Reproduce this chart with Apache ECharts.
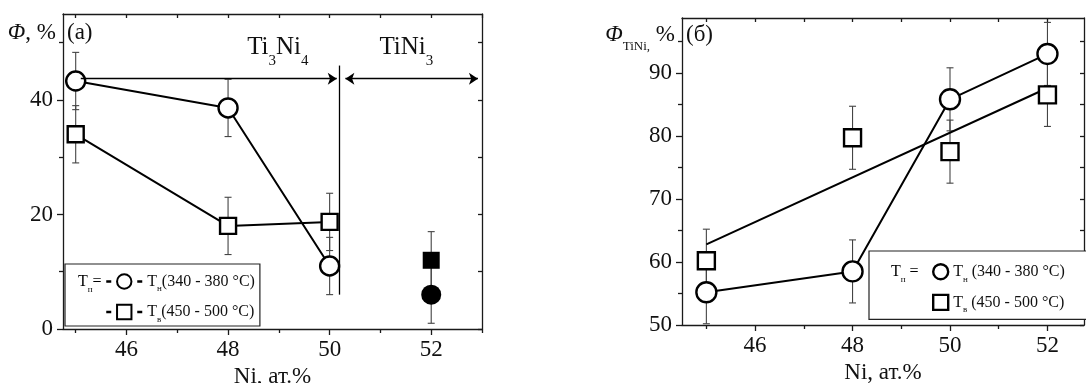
<!DOCTYPE html>
<html>
<head>
<meta charset="utf-8">
<title>Ф, %  vs Ni, ат.%</title>
<script src="https://cdn.jsdelivr.net/npm/echarts@6/dist/echarts.min.js"></script>
<style>
  html, body { margin: 0; padding: 0; background: #fff; }
  #chart { width: 1086px; height: 383px; }
</style>
</head>
<body>
<div id="chart"></div>
<script>
// panel (а): Ф, %
const niA = [45, 48, 50]
const phiTnA = [43.3, 38.6, 11.0]    // Tн (340 - 380 °C), open circles
const phiTvA = [34.0, 18.0, 18.7]    // Tв (450 - 500 °C), open squares
const errTnA = [5, 5, 5]
const errTvA = [5, 5, 5]
const ni52 = [52]
const phiTn52 = [6.0]                // filled circle
const phiTv52 = [12.0]               // filled square
const err52 = [5]

// panel (б): Ф TiNi, %
const niB = [45, 48, 50, 52]
const phiTnB = [55.2, 58.5, 85.8, 93.0]
const phiTvB = [60.2, 79.7, 77.5, 86.5]
const errTnB = [5, 5, 5, 5]
const errTvB = [5, 5, 5, 5]
const fitNiB = [45, 52]
const fitPhiB = [62.8, 87.6]

// ticks
const niTicks = [46, 48, 50, 52]
const niMinorA = [45, 47, 49, 51, 53]
const niMinorB = [45, 47, 49, 51]
const phiTicksA = [0, 20, 40]
const phiMinorA = [10, 30, 50]
const phiTicksB = [50, 60, 70, 80, 90]
const phiMinorB = [55, 65, 75, 85, 95]

// phase regions in (а)
const phaseNi = 50.18
const phaseSpan = [6, 46]
const arrowPhi = 43.7

const FONT = "'Liberation Serif', 'DejaVu Serif', serif"
const INK = '#1a1a1a'

const zip = (xs, ys) => xs.map((x, i) => [x, ys[i]])

function tickStyle() {
  return { color: INK, width: 1.3 }
}

function xAxes(grid, min, max, minor, nameGap) {
  return [{
    type: 'value', gridIndex: grid, min: min, max: max, position: 'bottom',
    axisLine: { show: true, onZero: false, lineStyle: tickStyle() },
    axisTick: { show: true, length: 6, customValues: niTicks, lineStyle: tickStyle() },
    axisLabel: { customValues: niTicks, margin: 9, fontSize: 23, fontFamily: FONT, color: '#111' },
    splitLine: { show: false },
    name: 'Ni, ат.%', nameLocation: 'middle', nameGap: nameGap,
    nameTextStyle: { fontSize: 23, fontFamily: FONT, color: '#111' }
  }, {
    type: 'value', gridIndex: grid, min: min, max: max, position: 'bottom',
    axisLine: { show: false, onZero: false },
    axisTick: { show: true, length: 4, customValues: minor, lineStyle: tickStyle() },
    axisLabel: { show: false }, splitLine: { show: false }
  }, {
    type: 'value', gridIndex: grid, min: min, max: max, position: 'top',
    axisLine: { show: true, onZero: false, lineStyle: tickStyle() },
    axisTick: { show: true, inside: true, length: 4, customValues: niTicks.concat(minor), lineStyle: tickStyle() },
    axisLabel: { show: false }, splitLine: { show: false }
  }]
}

function yAxes(grid, min, max, ticks, minor, name, nameGap, rich) {
  return [{
    type: 'value', gridIndex: grid, min: min, max: max, position: 'left',
    axisLine: { show: true, onZero: false, lineStyle: tickStyle() },
    axisTick: { show: true, length: 6, customValues: ticks, lineStyle: tickStyle() },
    axisLabel: { customValues: ticks, margin: 10, fontSize: 23, fontFamily: FONT, color: '#111' },
    splitLine: { show: false },
    name: name, nameLocation: 'end', nameGap: nameGap,
    nameTextStyle: { align: 'right', verticalAlign: 'middle', padding: [0, 7, 0, 0], rich: rich }
  }, {
    type: 'value', gridIndex: grid, min: min, max: max, position: 'left',
    axisLine: { show: false, onZero: false },
    axisTick: { show: true, length: 4, customValues: minor, lineStyle: tickStyle() },
    axisLabel: { show: false }, splitLine: { show: false }
  }, {
    type: 'value', gridIndex: grid, min: min, max: max, position: 'right',
    axisLine: { show: true, onZero: false, lineStyle: tickStyle() },
    axisTick: { show: true, inside: true, length: 4, customValues: ticks.concat(minor), lineStyle: tickStyle() },
    axisLabel: { show: false }, splitLine: { show: false }
  }]
}

function errorBars(xs, ys, errs, xi, yi) {
  return {
    type: 'custom', xAxisIndex: xi, yAxisIndex: yi, z: 1, silent: true,
    data: xs.map((x, i) => [x, ys[i] - errs[i], ys[i] + errs[i]]),
    encode: { x: 0, y: [1, 2] },
    renderItem: function (params, api) {
      const top = api.coord([api.value(0), api.value(2)])
      const bot = api.coord([api.value(0), api.value(1)])
      const w = 3.5
      const st = { stroke: '#444', lineWidth: 1.1 }
      return {
        type: 'group',
        children: [
          { type: 'line', shape: { x1: top[0], y1: top[1], x2: bot[0], y2: bot[1] }, style: st },
          { type: 'line', shape: { x1: top[0] - w, y1: top[1], x2: top[0] + w, y2: top[1] }, style: st },
          { type: 'line', shape: { x1: bot[0] - w, y1: bot[1], x2: bot[0] + w, y2: bot[1] }, style: st }
        ]
      }
    }
  }
}

const openMark = { color: '#fff', borderColor: '#000', borderWidth: 2.4, opacity: 1 }
const fullMark = { color: '#000', opacity: 1 }
const solidLine = { color: '#000', width: 2 }

// subscripts: a tiny token pushed down by top padding, so the line box keeps its height
const sub = (size, drop, lh) => ({ fontSize: size, fontFamily: FONT, color: '#111', height: 2, lineHeight: lh, padding: [drop, 0, 0, 0] })

const mainRich = {
  phi: { fontSize: 23, fontStyle: 'italic', fontFamily: FONT, color: '#111', lineHeight: 26 },
  m: { fontSize: 23, fontFamily: FONT, color: '#111', lineHeight: 26 },
  s: sub(13, 23, 26)
}
const labelRich = {
  m: { fontSize: 25, fontFamily: FONT, color: '#111', lineHeight: 30 },
  s: sub(15, 27, 30)
}
const legendRich = {
  m: { fontSize: 16, fontFamily: FONT, color: '#111', lineHeight: 18 },
  s: sub(9, 15, 18)
}
const legendName = name => '{m|T}{s|' + name[1] + '}{m|' + name.slice(2) + '}'

const chart = echarts.init(document.getElementById('chart'), null, { renderer: 'canvas' })

chart.setOption({
  animation: false,
  backgroundColor: '#fff',
  textStyle: { fontFamily: FONT },
  grid: [
    { left: 63, top: 14, width: 419, height: 315, containLabel: false, outerBoundsMode: 'none' },
    { left: 682, top: 18, width: 402, height: 307, containLabel: false, outerBoundsMode: 'none' }
  ],
  xAxis: xAxes(0, 44.75, 53, niMinorA, 29).concat(xAxes(1, 44.5, 52.75, niMinorB, 31)),
  yAxis: yAxes(0, 0, 55, phiTicksA, phiMinorA, '{phi|Φ}{m|, %}', -19, mainRich)
    .concat(yAxes(1, 50, 98.7, phiTicksB, phiMinorB, '{phi|Φ}{s|TiNi,}{m| %}', -17, mainRich)),
  legend: [{
    orient: 'vertical', left: 65, top: 264, selectedMode: false,
    data: ['Tн(340 - 380 °C)', 'Tв(450 - 500 °C)'],
    itemWidth: 36, itemHeight: 18, itemGap: 10,
    padding: [9, 5, 2, 40],
    lineStyle: { type: [5, 26], width: 2.5, color: '#000' },
    borderColor: '#222', borderWidth: 1.2, backgroundColor: '#fff',
    formatter: legendName,
    textStyle: { rich: legendRich }
  }, {
    orient: 'vertical', left: 869, top: 251, selectedMode: false,
    data: [
      { name: 'Tн (340 - 380 °C)', icon: 'circle', itemStyle: openMark },
      { name: 'Tв (450 - 500 °C)', icon: 'rect', itemStyle: openMark }
    ],
    itemWidth: 15, itemHeight: 15, itemGap: 10,
    padding: [12, 40, 5, 63],
    borderColor: '#222', borderWidth: 1.2, backgroundColor: '#fff',
    formatter: legendName,
    textStyle: { rich: legendRich }
  }],
  graphic: [
    { type: 'text', x: 67, y: 33, style: { text: '(a)', font: '23px ' + FONT, fill: '#111', verticalAlign: 'middle' } },
    { type: 'text', x: 686, y: 35, style: { text: '(б)', font: '23px ' + FONT, fill: '#111', verticalAlign: 'middle' } },
    { type: 'text', x: 78, y: 282, z: 100, style: { text: '{m|T}{s|п}{m|=}', rich: legendRich, verticalAlign: 'middle' } },
    { type: 'text', x: 891, y: 272, z: 100, style: { text: '{m|T}{s|п}{m| =}', rich: legendRich, verticalAlign: 'middle' } }
  ],
  series: [
    errorBars(niA, phiTnA, errTnA, 0, 0),
    errorBars(niA, phiTvA, errTvA, 0, 0),
    errorBars(ni52, phiTn52, err52, 0, 0),
    errorBars(ni52, phiTv52, err52, 0, 0),
    {
      name: 'Tн(340 - 380 °C)', type: 'line', xAxisIndex: 0, yAxisIndex: 0, z: 3,
      data: zip(niA, phiTnA), symbol: 'circle', symbolSize: 19,
      itemStyle: openMark, lineStyle: solidLine,
      markLine: {
        silent: true, symbol: ['none', 'none'], symbolSize: 9,
        label: { show: false },
        lineStyle: { color: '#000', width: 1.3, type: 'solid' },
        data: [
          [{ coord: [phaseNi, phaseSpan[0]] }, { coord: [phaseNi, phaseSpan[1]] }],
          [{ coord: [45.1, arrowPhi] }, { coord: [phaseNi - 0.04, arrowPhi], symbol: 'arrow' }],
          [{ coord: [phaseNi + 0.13, arrowPhi], symbol: 'arrow' }, { coord: [52.92, arrowPhi], symbol: 'arrow' }]
        ]
      },
      markPoint: {
        silent: true, symbol: 'circle', symbolSize: 1,
        itemStyle: { color: 'rgba(0,0,0,0)' },
        label: { show: true, position: 'inside', rich: labelRich },
        data: [
          { coord: [48.98, 49.2], label: { formatter: '{m|Ti}{s|3}{m|Ni}{s|4}' } },
          { coord: [51.51, 49.2], label: { formatter: '{m|TiNi}{s|3}' } }
        ]
      }
    },
    {
      name: 'Tв(450 - 500 °C)', type: 'line', xAxisIndex: 0, yAxisIndex: 0, z: 3,
      data: zip(niA, phiTvA), symbol: 'rect', symbolSize: 16,
      itemStyle: openMark, lineStyle: solidLine
    },
    {
      type: 'scatter', xAxisIndex: 0, yAxisIndex: 0, z: 3,
      data: zip(ni52, phiTv52), symbol: 'rect', symbolSize: 17,
      itemStyle: fullMark
    },
    {
      type: 'scatter', xAxisIndex: 0, yAxisIndex: 0, z: 3,
      data: zip(ni52, phiTn52), symbol: 'circle', symbolSize: 20,
      itemStyle: fullMark
    },

    errorBars(niB, phiTnB, errTnB, 3, 3),
    errorBars(niB, phiTvB, errTvB, 3, 3),
    {
      type: 'line', xAxisIndex: 3, yAxisIndex: 3, z: 2,
      data: zip(fitNiB, fitPhiB), symbol: 'none', lineStyle: solidLine
    },
    {
      name: 'Tн (340 - 380 °C)', type: 'line', xAxisIndex: 3, yAxisIndex: 3, z: 3,
      data: zip(niB, phiTnB), symbol: 'circle', symbolSize: 20,
      itemStyle: openMark, lineStyle: solidLine
    },
    {
      name: 'Tв (450 - 500 °C)', type: 'scatter', xAxisIndex: 3, yAxisIndex: 3, z: 3,
      data: zip(niB, phiTvB), symbol: 'rect', symbolSize: 17,
      itemStyle: openMark
    }
  ]
})
</script>
</body>
</html>
